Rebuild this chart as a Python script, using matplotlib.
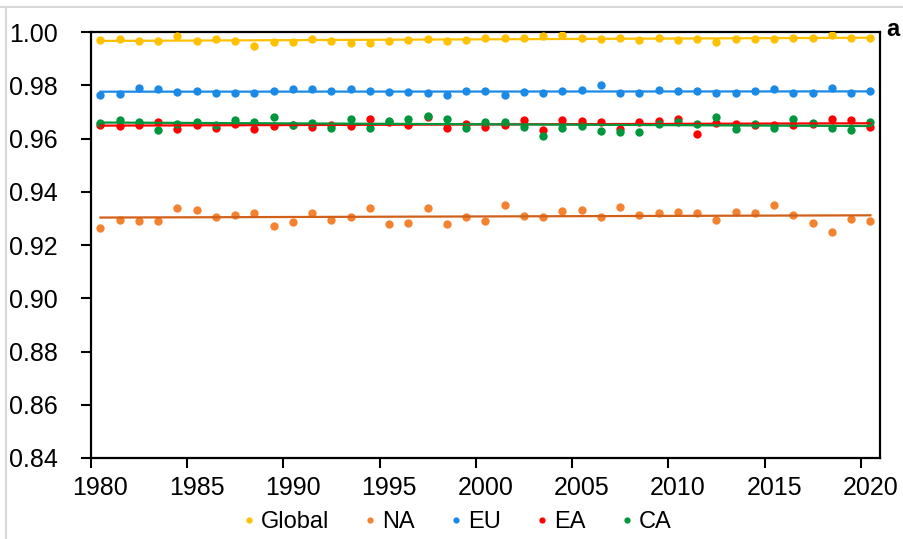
import matplotlib
matplotlib.use("Agg")
import matplotlib.pyplot as plt
from matplotlib.lines import Line2D
import numpy as np

plt.rcParams["font.family"] = ["Liberation Sans", "DejaVu Sans"]

years = list(range(1980, 2021))

global_vals = [0.9971, 0.9976, 0.9968, 0.9968, 0.9985, 0.9968, 0.9976, 0.9968, 0.9948, 0.9965,
               0.9965, 0.9975, 0.9966, 0.9961, 0.9961, 0.9966, 0.9970, 0.9976, 0.9968, 0.9972,
               0.9980, 0.9980, 0.9980, 0.9986, 0.9990, 0.9980, 0.9975, 0.9980, 0.9972, 0.9980,
               0.9972, 0.9976, 0.9963, 0.9976, 0.9976, 0.9976, 0.9978, 0.9978, 0.9989, 0.9978,
               0.9978]
na_vals = [0.9266, 0.9294, 0.9289, 0.9289, 0.9338, 0.9333, 0.9307, 0.9314, 0.9319, 0.9272,
           0.9287, 0.9322, 0.9294, 0.9307, 0.9338, 0.9279, 0.9283, 0.9338, 0.9279, 0.9307,
           0.9291, 0.9349, 0.9311, 0.9307, 0.9327, 0.9333, 0.9307, 0.9342, 0.9313, 0.9319,
           0.9326, 0.9319, 0.9294, 0.9326, 0.9322, 0.9349, 0.9314, 0.9283, 0.9248, 0.9298,
           0.9291]
eu_vals = [0.9763, 0.9767, 0.9789, 0.9785, 0.9777, 0.9780, 0.9771, 0.9771, 0.9771, 0.9780,
           0.9787, 0.9787, 0.9780, 0.9787, 0.9779, 0.9775, 0.9775, 0.9771, 0.9766, 0.9780,
           0.9780, 0.9766, 0.9776, 0.9771, 0.9779, 0.9783, 0.9800, 0.9771, 0.9771, 0.9782,
           0.9780, 0.9780, 0.9772, 0.9772, 0.9780, 0.9785, 0.9770, 0.9770, 0.9789, 0.9771,
           0.9780]
ea_vals = [0.9652, 0.9646, 0.9653, 0.9662, 0.9638, 0.9650, 0.9641, 0.9654, 0.9638, 0.9646,
           0.9650, 0.9644, 0.9650, 0.9646, 0.9673, 0.9662, 0.9650, 0.9681, 0.9640, 0.9657,
           0.9644, 0.9650, 0.9672, 0.9631, 0.9672, 0.9667, 0.9663, 0.9638, 0.9663, 0.9667,
           0.9673, 0.9619, 0.9659, 0.9657, 0.9650, 0.9650, 0.9650, 0.9654, 0.9674, 0.9669,
           0.9644]
ca_vals = [0.9659, 0.9669, 0.9661, 0.9634, 0.9657, 0.9661, 0.9650, 0.9672, 0.9662, 0.9682,
           0.9650, 0.9659, 0.9642, 0.9673, 0.9642, 0.9667, 0.9674, 0.9684, 0.9673, 0.9642,
           0.9663, 0.9663, 0.9644, 0.9609, 0.9640, 0.9648, 0.9629, 0.9625, 0.9625, 0.9657,
           0.9663, 0.9657, 0.9682, 0.9638, 0.9657, 0.9640, 0.9673, 0.9659, 0.9640, 0.9634,
           0.9664]

series = [
    ("Global", global_vals, "#FFC000", "#FFC000"),
    ("NA", na_vals, "#F5822E", "#D0601A"),
    ("EU", eu_vals, "#1A8AE6", "#1A8AE6"),
    ("EA", ea_vals, "#FF0000", "#FF0000"),
    ("CA", ca_vals, "#00963C", "#00963C"),
]

fig = plt.figure(figsize=(9.04, 5.39), dpi=100)
ax = fig.add_axes([0.1005, 0.1503, 0.873, 0.7898])

idx = np.arange(len(years))
for name, vals, mcol, lcol in series:
    ax.plot(idx, vals, "o", color=mcol, markersize=6, markeredgewidth=0, zorder=3)
# linear trend lines on top of the dots
for name, vals, mcol, lcol in series:
    k, b = np.polyfit(idx, vals, 1)
    ax.plot(idx, k * idx + b, color=lcol, linewidth=1.6, zorder=4)

ax.set_xlim(-0.5, len(years) - 0.5)
ax.set_ylim(0.84, 1.00)
ax.set_yticks(np.arange(0.84, 1.001, 0.02))
ax.set_yticklabels([f"{v:.2f}" for v in np.arange(0.84, 1.001, 0.02)])

# tick marks between categories, labels under the category centres
ax.set_xticks(np.arange(-0.5, len(years) - 1, 5))
ax.set_xticklabels([])
ax.set_xticks(idx[::5], minor=True)
ax.set_xticklabels([str(y) for y in years[::5]], minor=True)

ax.tick_params(axis="both", which="major", direction="out", length=7, width=1.5,
               labelsize=18, colors="black")
ax.tick_params(axis="y", pad=17)
ax.tick_params(axis="x", which="minor", length=0, pad=13, labelsize=18)
for sp in ax.spines.values():
    sp.set_linewidth(1.6)
    sp.set_color("black")

handles = [Line2D([], [], marker="o", linestyle="none", color=mcol,
                  markersize=4.5, markeredgewidth=0) for _, _, mcol, _ in series]
fig.legend(handles, [s[0] for s in series], loc="center", ncol=5,
           bbox_to_anchor=(457 / 904, 1 - 522 / 539), frameon=False, fontsize=17,
           handlelength=0.5, handletextpad=0.25, columnspacing=1.5, borderpad=0)

fig.text(893 / 904, 1 - 30 / 539, "a", fontsize=17, fontweight="bold",
         ha="center", va="center")

# screenshot frame edges
fig.add_artist(Line2D([0, 1], [1 - 7 / 539, 1 - 7 / 539], color="#D9D9D9", linewidth=1.5))
fig.add_artist(Line2D([6.5 / 904, 6.5 / 904], [0, 1 - 7 / 539], color="#D9D9D9", linewidth=1.5))

fig.savefig("out.png", dpi=100)
